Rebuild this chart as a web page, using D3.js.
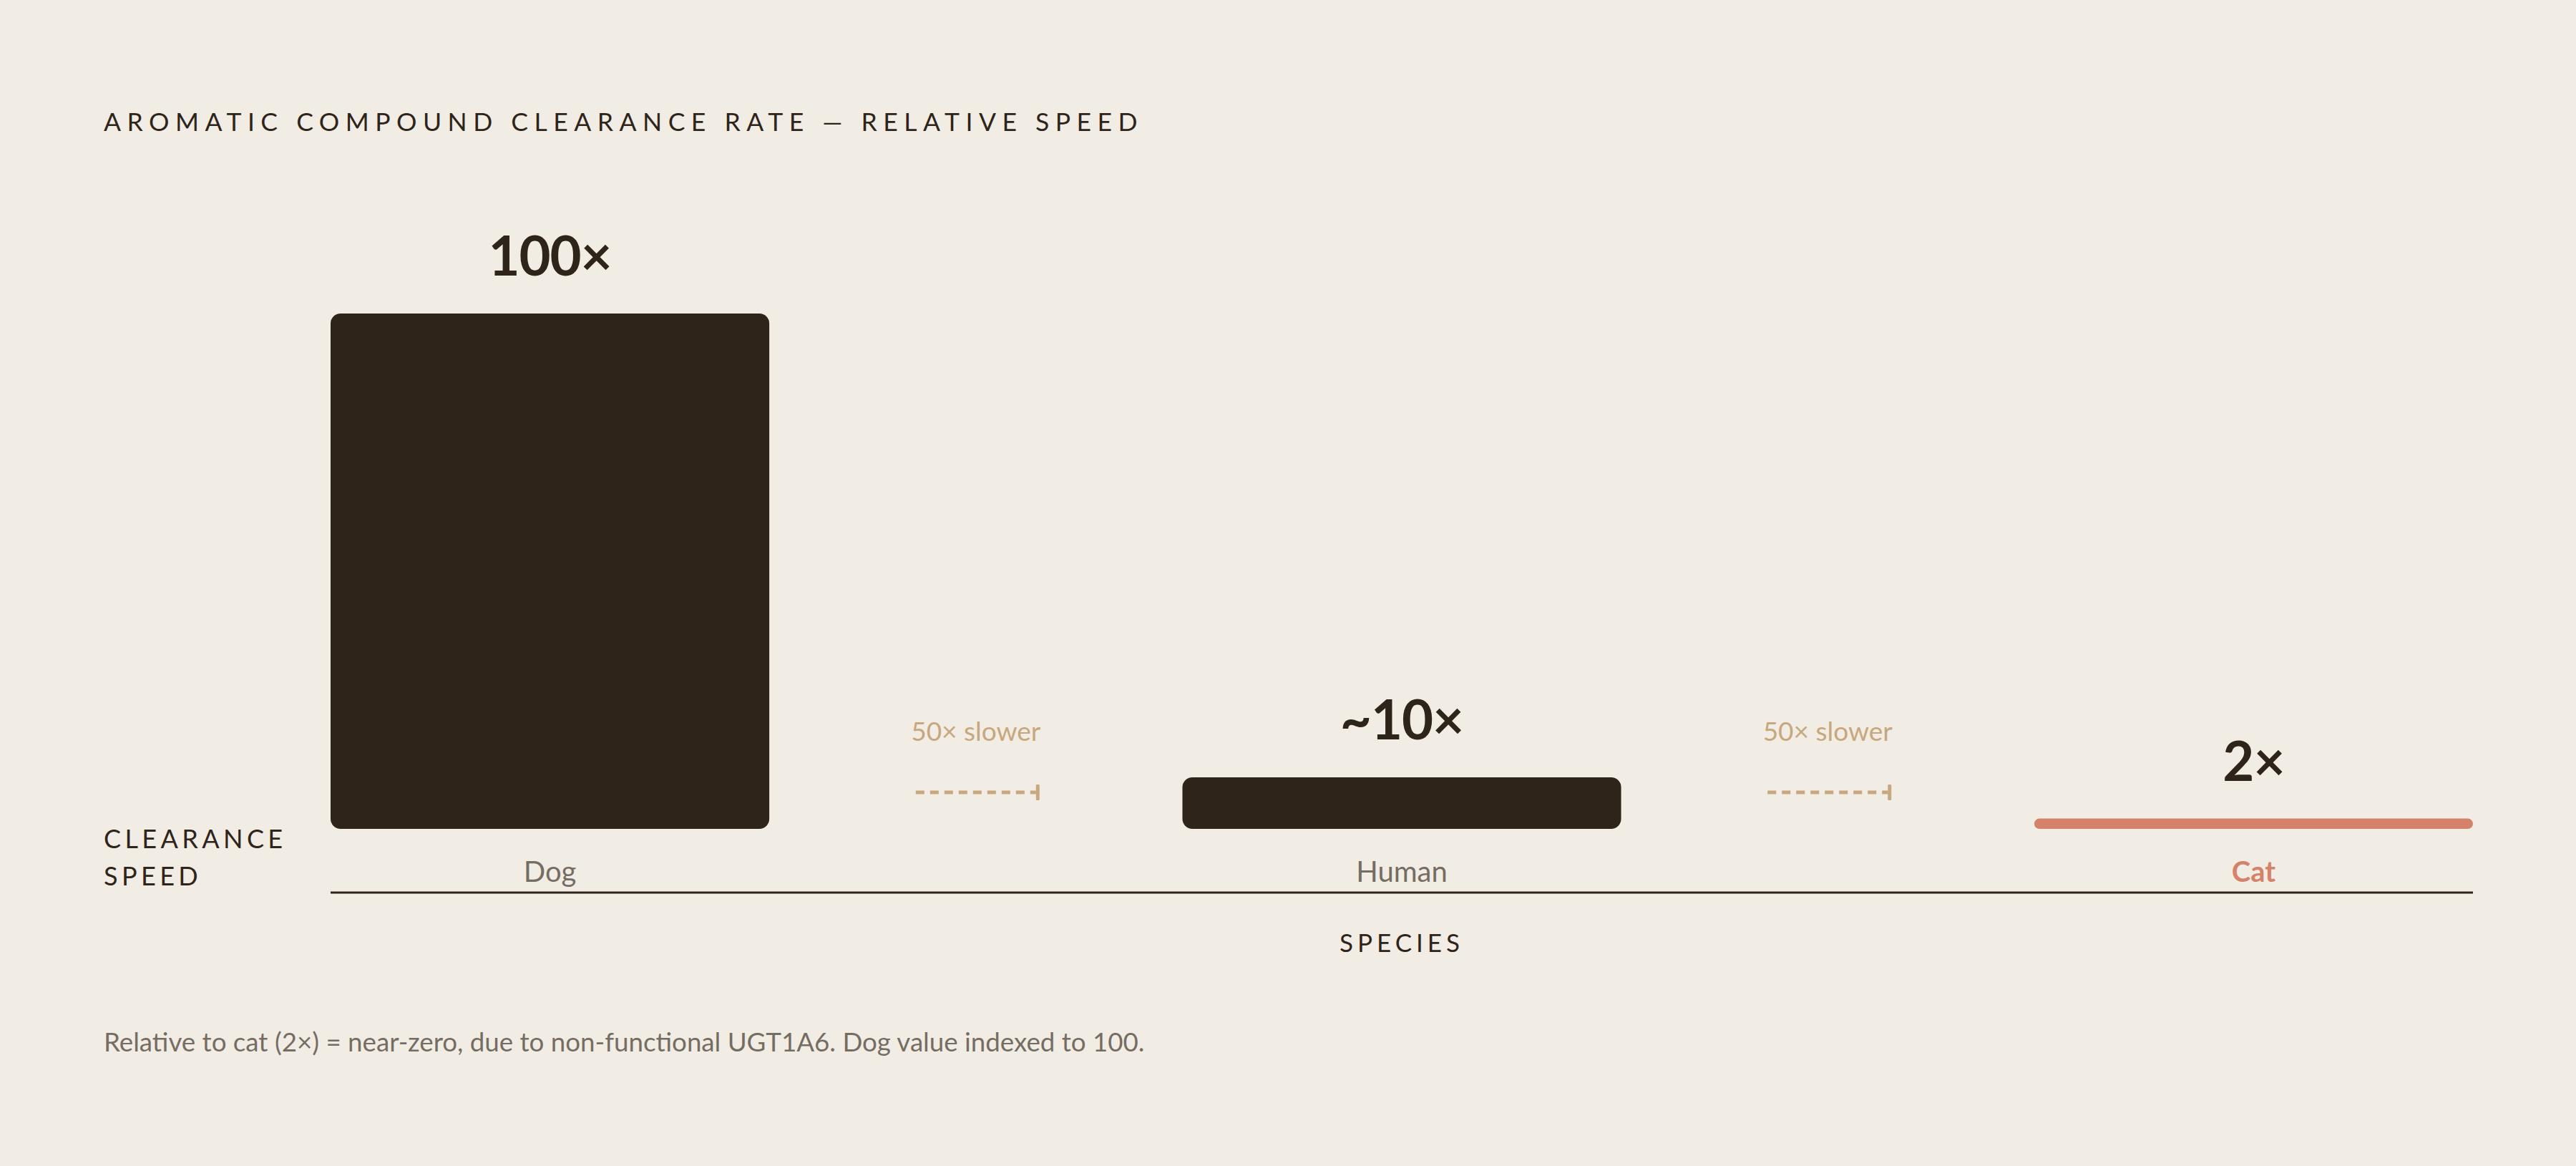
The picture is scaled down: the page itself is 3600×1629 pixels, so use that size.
<!DOCTYPE html>
<html>
<head>
<meta charset="utf-8">
<script src="https://cdn.jsdelivr.net/npm/d3@7/dist/d3.min.js"></script>
<style>
  html, body { margin: 0; padding: 0; background: #f2ede4; }
  svg { display: block; }
  text { font-family: Lato, "Noto Sans", sans-serif; }
</style>
</head>
<body>
<div id="chart"></div>
<script>
const species = ["Dog", "Human", "Cat"];
const speedValues = [100, 10, 2];
const valueLabels = ["100×", "~10×", "2×"];
const gapLabels = ["50× slower", "50× slower"];
const titleText = "AROMATIC COMPOUND CLEARANCE RATE — RELATIVE SPEED";
const yAxisLines = ["CLEARANCE", "SPEED"];
const xAxisTitle = "SPECIES";
const footnote = "Relative to cat (2×) = near-zero, due to non-functional UGT1A6. Dog value indexed to 100.";

const W = 3600, H = 1629;
const colors = { bg: "#f2ede4", ink: "#2e241a", cat: "#d4826a", tan: "#c6a77e", gray: "#756d63" };

const svg = d3.select("#chart").append("svg").attr("width", W).attr("height", H);
svg.append("rect").attr("width", W).attr("height", H).attr("fill", colors.bg);

const x = d3.scaleBand().domain(species).range([462, 3456]).paddingInner(0.485).paddingOuter(0);
const y = d3.scaleLinear().domain([0, 100]).range([1158, 438]);
const bw = x.bandwidth();

// Title
svg.append("text").attr("x", 145).attr("y", 183)
  .attr("font-size", 35.5).attr("letter-spacing", "8.5px").attr("fill", colors.ink)
  .text(titleText);

// Bars
const data = species.map((s, i) => ({ s, v: speedValues[i], label: valueLabels[i] }));
svg.selectAll("rect.bar").data(data).enter().append("rect")
  .attr("class", "bar")
  .attr("x", d => x(d.s))
  .attr("y", d => y(d.v))
  .attr("width", bw)
  .attr("height", d => y(0) - y(d.v))
  .attr("rx", d => Math.min(14, (y(0) - y(d.v)) / 2))
  .attr("fill", d => d.s === "Cat" ? colors.cat : colors.ink);

// Value labels
svg.selectAll("text.val").data(data).enter().append("text")
  .attr("class", "val")
  .attr("x", d => x(d.s) + bw / 2)
  .attr("y", d => y(d.v) - 53)
  .attr("text-anchor", "middle")
  .attr("font-size", 76).attr("font-weight", 700).attr("letter-spacing", "-1px")
  .attr("fill", colors.ink)
  .text(d => d.label);

// Gap annotations
const gaps = gapLabels.map((g, i) => ({
  label: g,
  cx: (x(species[i]) + bw + x(species[i + 1])) / 2
}));
const gg = svg.selectAll("g.gap").data(gaps).enter().append("g").attr("class", "gap");
gg.append("text")
  .attr("x", d => d.cx).attr("y", 1035)
  .attr("text-anchor", "middle").attr("font-size", 37)
  .attr("fill", colors.tan).text(d => d.label);
gg.append("line")
  .attr("x1", d => d.cx - 84).attr("x2", d => d.cx + 84)
  .attr("y1", 1107).attr("y2", 1107)
  .attr("stroke", colors.tan).attr("stroke-width", 5)
  .attr("stroke-dasharray", "12,8");
gg.append("rect")
  .attr("x", d => d.cx + 84).attr("y", 1096)
  .attr("width", 5).attr("height", 22).attr("rx", 1.5)
  .attr("fill", colors.tan);

// Category labels
svg.selectAll("text.cat").data(data).enter().append("text")
  .attr("class", "cat")
  .attr("x", d => x(d.s) + bw / 2).attr("y", 1232)
  .attr("text-anchor", "middle").attr("font-size", 40)
  .attr("font-weight", d => d.s === "Cat" ? 700 : 400)
  .attr("fill", d => d.s === "Cat" ? colors.cat : colors.gray)
  .text(d => d.s);

// Axis baseline
const axis = d3.axisBottom(x).tickSize(0).tickFormat("");
const ag = svg.append("g").attr("transform", "translate(0,1247)").call(axis);
ag.select(".domain").attr("stroke", colors.ink).attr("stroke-width", 3)
  .attr("d", `M${x.range()[0]},0H${x.range()[1]}`);

// Y axis label
svg.append("text").attr("x", 145).attr("font-size", 36).attr("letter-spacing", "5.4px")
  .attr("fill", colors.ink)
  .selectAll("tspan").data(yAxisLines).enter().append("tspan")
  .attr("x", 145).attr("y", (d, i) => 1185 + i * 52).text(d => d);

// X axis title
svg.append("text").attr("x", (x.range()[0] + x.range()[1]) / 2).attr("y", 1330)
  .attr("text-anchor", "middle").attr("font-size", 35).attr("letter-spacing", "6px")
  .attr("fill", colors.ink).text(xAxisTitle);

// Footnote
svg.append("text").attr("x", 145).attr("y", 1469)
  .attr("font-size", 36.7).attr("fill", colors.gray).text(footnote);
</script>
</body>
</html>
